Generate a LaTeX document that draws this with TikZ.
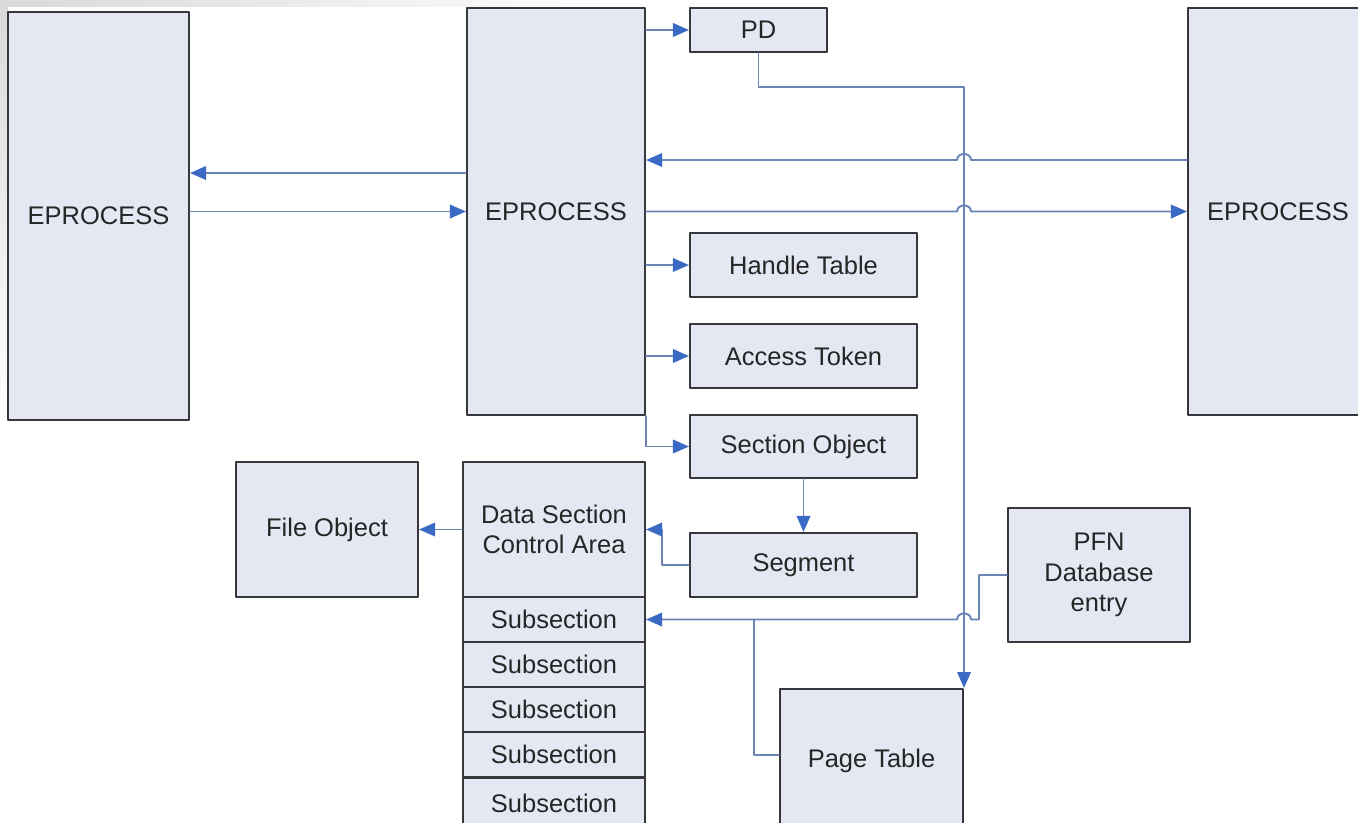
\documentclass[tikz,border=0pt]{standalone}
\usepackage{fontspec}
\setmainfont{Liberation Sans}
\usetikzlibrary{arrows.meta,calc}
\definecolor{boxfill}{RGB}{228,232,242}
\definecolor{boxline}{RGB}{55,55,60}
\definecolor{linkline}{RGB}{108,132,182}
\definecolor{tipblue}{RGB}{58,106,196}

\begin{document}
\begin{tikzpicture}[line cap=round,line join=round,x=0.02cm,y=-0.02cm,
    >={Triangle[length=3.2mm,width=2.7mm,color=tipblue]},
    box/.style={draw=boxline,fill=boxfill,line width=1.2pt,inner sep=0pt,align=center,
      font=\fontsize{14.5}{17.5}\selectfont,text=black!85},
    link/.style={draw=linkline,line width=1.1pt}]
            \clip (0,0) rectangle (1358,822);
            \shade[left color=gray!30,right color=white] (0,0) rectangle (620,6);
            \shade[top color=gray!30,bottom color=white] (0,0) rectangle (8,430);
            % processes
            \node[box,minimum width=3.62cm,minimum height=8.16cm] (epL) at (98.5,216) {EPROCESS};
            \node[box,minimum width=3.56cm,minimum height=8.14cm] (epC) at (556,211.5) {EPROCESS};
            \node[box,minimum width=3.6cm,minimum height=8.14cm] (epR) at (1278,211.5) {EPROCESS};
            % objects of the middle process
            \node[box,minimum width=2.74cm,minimum height=0.88cm] (pd) at (758.5,30) {PD};
            \node[box,minimum width=4.54cm,minimum height=1.28cm] (ht) at (803.5,265) {Handle Table};
            \node[box,minimum width=4.54cm,minimum height=1.28cm] (tok) at (803.5,356) {Access Token};
            \node[box,minimum width=4.54cm,minimum height=1.26cm] (so) at (803.5,446.5) {Section Object};
            \node[box,minimum width=4.54cm,minimum height=1.28cm] (seg) at (803.5,565) {Segment};
            \node[box,minimum width=3.64cm,minimum height=2.7cm] (ca) at (554,529.5) {Data Section\\Control Area};
            \foreach \i/\y in {1/619.5,2/664.5,3/709.5,4/754.5}
              \node[box,minimum width=3.64cm,minimum height=0.9cm] (sub\i) at (554,\y) {Subsection};
            \node[box,minimum width=3.64cm,minimum height=1.0cm,anchor=north] (sub5) at (554,777) {Subsection};
            \node[box,minimum width=3.64cm,minimum height=2.7cm] (fo) at (327,529.5) {File Object};
            \node[box,minimum width=3.64cm,minimum height=2.68cm] (pfn) at (1099,575) {PFN\\Database\\entry};
            \node[box,minimum width=3.66cm,minimum height=2.86cm,anchor=north] (ptab) at (871.5,688) {Page Table};
            % links between processes
            \draw[link,->] ([yshift=7.7mm]epC.west) coordinate (a1) -- (epL.east |- a1);
            \draw[link,->] (epL.east |- epC.west) -- (epC.west);
            \draw[link,->] ([yshift=10.3mm]epR.west) coordinate (a3) -- ($(ptab.north east |- a3)+(7,0)$)
              .. controls +(0,-8) and +(0,-8) .. ($(ptab.north east |- a3)+(-7,0)$) -- (epC.east |- a3);
            \draw[link,->] (epC.east) -- ($(ptab.north east |- epC.east)+(-7,0)$)
              .. controls +(0,-8) and +(0,-8) .. ($(ptab.north east |- epC.east)+(7,0)$) -- (epR.west);
            % links to the objects
            \draw[link,->] (epC.east |- pd.west) -- (pd.west);
            \draw[link,->] (pd.south) -- ++(0,34) -| (ptab.north east);
            \draw[link,->] (epC.east |- ht.west) -- (ht.west);
            \draw[link,->] (epC.east |- tok.west) -- (tok.west);
            \draw[link,->] (epC.south east) |- (so.west);
            \draw[link,->] (so) -- (seg);
            \draw[link,->] (seg.west) -- ++(-27,0) |- (ca.east);
            \draw[link,->] (ca.west) -- (fo.east);
            \draw[link,->] (pfn.west) -- ++(-28,0) |- ($(ptab.north east |- sub1.east)+(7,0)$)
              .. controls +(0,-8) and +(0,-8) .. ($(ptab.north east |- sub1.east)+(-7,0)$) -- (sub1.east);
            \draw[link] (ptab.west |- 0,755) -| ($(sub1.east)+(108,0)$);
\end{tikzpicture}
\end{document}
